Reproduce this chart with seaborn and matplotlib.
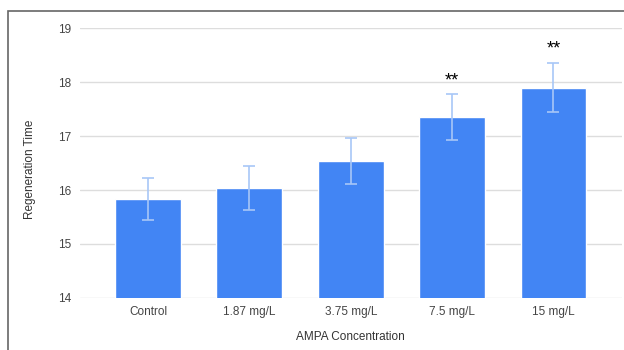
import matplotlib
matplotlib.use("Agg")
import matplotlib.pyplot as plt
import seaborn as sns
import pandas as pd
from matplotlib.patches import Rectangle

categories = ["Control", "1.87 mg/L", "3.75 mg/L", "7.5 mg/L", "15 mg/L"]
values = [15.84, 16.04, 16.54, 17.36, 17.90]
errors = [0.39, 0.41, 0.42, 0.43, 0.45]
annotations = ["", "", "", "**", "**"]
annot_y = [None, None, None, 18.02, 18.62]

sns.set_theme(style="white")
plt.rcParams['font.family'] = ['Liberation Sans', 'DejaVu Sans']

df = pd.DataFrame({"cat": categories, "val": values})

fig = plt.figure(figsize=(6.24, 3.5), dpi=100)
ax = fig.add_axes([0.1276, 0.149, 0.869, 0.770])

sns.barplot(data=df, x="cat", y="val", color="#4285F4", saturation=1,
            width=0.65, errorbar=None, ax=ax, zorder=2)
ax.errorbar(range(len(categories)), values, yerr=errors, fmt="none",
            ecolor="#a8c7f7", elinewidth=1.2, capsize=4.3, capthick=1.2, zorder=3)

for i, (t, yv) in enumerate(zip(annotations, annot_y)):
    if t:
        ax.text(i, yv, t, ha="center", va="center", fontsize=13, color="black")

ax.set_ylim(14, 19)
ax.set_xlim(-0.675, 4.675)
ax.set_yticks([14, 15, 16, 17, 18, 19])
ax.yaxis.grid(True, color="#dddddd", linewidth=1)
ax.set_axisbelow(True)
for s in ax.spines.values():
    s.set_visible(False)
ax.tick_params(axis="both", length=0, labelsize=8.5, colors="#444444")
ax.tick_params(axis="x", pad=6)
ax.tick_params(axis="y", pad=6)
ax.set_xlabel("AMPA Concentration", fontsize=8.5, color="#333333", labelpad=9)
ax.set_ylabel("Regeneration Time", fontsize=8.5, color="#333333")
ax.yaxis.set_label_coords(-0.08, 0.476)

frame = Rectangle((8/624, -0.2), 1.2, 0.2 + 1 - 11/350, transform=fig.transFigure,
                  fill=False, edgecolor="#666666", linewidth=1.2)
fig.patches.append(frame)

fig.savefig("out.png", dpi=100)
